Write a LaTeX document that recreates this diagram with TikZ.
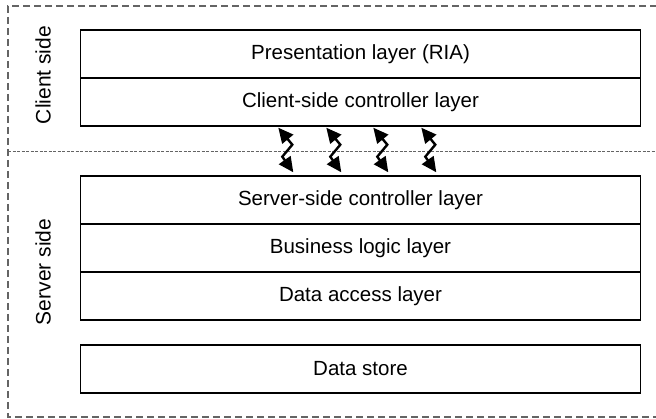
\documentclass[tikz,border=0pt]{standalone}
\usepackage{fontspec}
\setmainfont{Liberation Sans}
\usetikzlibrary{arrows.meta,calc}
\definecolor{dashgrey}{RGB}{100,100,100}
\begin{document}
\begin{tikzpicture}[x=1pt,y=-1pt,
  layer/.style={draw=black,line width=1.4pt,minimum width=560pt,minimum height=48pt,inner sep=0pt,
    font=\fontsize{20.5}{24}\selectfont},
  sidelabel/.style={rotate=90,font=\fontsize{21}{24}\selectfont,inner sep=0pt},
  outer/.style={draw=dashgrey,line width=1.2pt,dash pattern=on 7pt off 4pt},
  sep/.style={draw=dashgrey,line width=1pt,dash pattern=on 3pt off 1.5pt},
  zaphead/.tip={Triangle[length=15pt,width=14pt]},
  zap/.style={line width=2.4pt,line join=miter,zaphead-zaphead}
]
\useasboundingbox (0,0) rectangle (656,419);
% frames
\draw[outer] (657,6) -- (8,6) -- (8,417) -- (657,417);
\draw[sep] (8,152) -- (657,152);
% layers
\node[layer] (pres) at (360.5,54) {Presentation layer (RIA)};
\node[layer] (cctl) at (360.5,102) {Client-side controller layer};
\node[layer] (sctl) at (360.5,200) {Server-side controller layer};
\node[layer] (biz)  at (360.5,248) {Business logic layer};
\node[layer] (dal)  at (360.5,296) {Data access layer};
\node[layer] (ds)   at (360.5,369) {Data store};
% side labels
\node[sidelabel] (cs) at (43,75) {Client side};
\node[sidelabel] (ss) at (43,272) {Server side};
% zigzag arrows
\foreach \i/\x in {1/279,2/327,3/374,4/422}{
  \coordinate (t\i) at ($(cctl.south west)+(\x-80.5,1)$);
  \coordinate (b\i) at ($(sctl.north west)+(\x-80.5+15,-3)$);
  \draw[zap] (t\i) -- ++(14,17) -- ++(-10,12) -- (b\i);
}
\end{tikzpicture}
\end{document}
